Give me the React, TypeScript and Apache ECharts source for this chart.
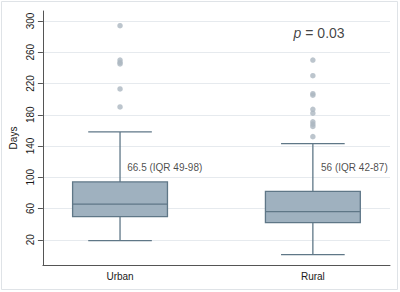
import React, { useEffect, useRef } from "react";
import * as echarts from "echarts";

const categories = ["Urban", "Rural"];
const categoryPositions = [1, 2];
// [min whisker, Q1, median, Q3, max whisker]
const boxStats = [
  [19, 49.5, 65.5, 94, 158],
  [1, 42, 56, 82, 143],
];
const urbanOutliers = [294, 250, 247, 245, 213, 190];
const ruralOutliers = [250, 230, 207, 205, 187, 182, 171, 168, 165, 152];
const medianLabels = ["66.5 (IQR 49-98)", "56 (IQR 42-87)"];
const medianLabelX = [1.04, 2.045];
const medianLabelY = [112, 112];
const yTicks = [20, 60, 100, 140, 180, 220, 260, 300];
const pValue = "0.03";
const pValuePos = [2.035, 284];

const FONT = "Liberation Sans, Arial, sans-serif";

export default function App() {
  const ref = useRef<HTMLDivElement>(null);
  useEffect(() => {
    if (!ref.current) return;
    const chart = echarts.init(ref.current, undefined, { renderer: "svg" });
    const strokeColor = "#5f7787";
    const textColor = "#1a1a1a";
    const option: any = {
      animation: false,
      backgroundColor: "#ffffff",
      textStyle: { fontFamily: FONT },
      graphic: [
        {
          type: "rect",
          shape: { x: 1.5, y: 1.5, width: 396, height: 288 },
          style: { fill: "none", stroke: "#dfe3e7", lineWidth: 1 },
          silent: true,
        },
      ],
      grid: { left: 40, right: 10, top: 11, bottom: 27 },
      xAxis: {
        type: "value",
        min: 0.6,
        max: 2.4,
        axisLine: { show: true, onZero: false, lineStyle: { color: "#555", width: 1 } },
        axisTick: { show: false },
        splitLine: { show: false },
        axisLabel: {
          customValues: categoryPositions,
          formatter: (v: number) => categories[categoryPositions.indexOf(v)] ?? "",
          color: textColor,
          fontSize: 10,
          fontFamily: FONT,
          margin: 6,
        },
      },
      yAxis: {
        type: "value",
        min: -12.3,
        max: 312.8,
        name: "Days",
        nameLocation: "middle",
        nameGap: 22,
        nameTextStyle: { color: textColor, fontSize: 10, fontFamily: FONT },
        axisLine: { show: true, onZero: false, lineStyle: { color: "#555", width: 1 } },
        axisTick: { show: true, customValues: yTicks, length: 5, lineStyle: { color: "#555" } },
        splitLine: { show: true, lineStyle: { color: "#e6eaee", width: 1 } },
        axisLabel: {
          customValues: yTicks,
          rotate: 90,
          color: textColor,
          fontSize: 10,
          fontFamily: FONT,
          margin: 7,
        },
      },
      series: [
        {
          type: "custom",
          data: boxStats.map((s, i) => [categoryPositions[i], ...s]),
          encode: { x: 0, y: [1, 2, 3, 4, 5] },
          renderItem: (params: any, api: any) => {
            const x = api.value(0);
            const vals = [1, 2, 3, 4, 5].map((i) => api.value(i));
            const pts = vals.map((v) => api.coord([x, v]));
            const cx = pts[0][0];
            const [yMin, yQ1, yMed, yQ3, yMax] = pts.map((p: number[]) => p[1]);
            const boxW = api.size([0.492, 0])[0];
            const capW = api.size([0.33, 0])[0];
            const st = { stroke: strokeColor, lineWidth: 1.3 };
            return {
              type: "group",
              children: [
                { type: "line", shape: { x1: cx, y1: yQ3, x2: cx, y2: yMax }, style: st },
                { type: "line", shape: { x1: cx, y1: yMin, x2: cx, y2: yQ1 }, style: st },
                { type: "line", shape: { x1: cx - capW / 2, y1: yMax, x2: cx + capW / 2, y2: yMax }, style: st },
                { type: "line", shape: { x1: cx - capW / 2, y1: yMin, x2: cx + capW / 2, y2: yMin }, style: st },
                {
                  type: "rect",
                  shape: { x: cx - boxW / 2, y: yQ3, width: boxW, height: yQ1 - yQ3 },
                  style: { fill: "#9fb1bf", stroke: strokeColor, lineWidth: 1.3 },
                },
                { type: "line", shape: { x1: cx - boxW / 2, y1: yMed, x2: cx + boxW / 2, y2: yMed }, style: st },
              ],
            };
          },
          z: 2,
        },
        {
          type: "scatter",
          data: [
            ...urbanOutliers.map((v) => [categoryPositions[0], v]),
            ...ruralOutliers.map((v) => [categoryPositions[1], v]),
          ],
          symbol: "circle",
          symbolSize: 5.5,
          itemStyle: { color: "#abb7c1" },
          z: 3,
        },
        {
          type: "scatter",
          data: medianLabels.map((t, i) => [medianLabelX[i], medianLabelY[i], t]),
          symbolSize: 1,
          itemStyle: { color: "rgba(0,0,0,0)" },
          label: {
            show: true,
            position: [0, 0],
            align: "left",
            verticalAlign: "middle",
            formatter: (p: any) => p.data[2],
            color: textColor,
            fontSize: 10,
            fontFamily: FONT,
          },
          z: 4,
        },
        {
          type: "scatter",
          data: [[pValuePos[0], pValuePos[1], pValue]],
          symbolSize: 1,
          itemStyle: { color: "rgba(0,0,0,0)" },
          label: {
            show: true,
            position: [0, 0],
            align: "center",
            verticalAlign: "middle",
            formatter: (p: any) => "{i|p} = " + p.data[2],
            color: "#111",
            fontSize: 14,
            fontFamily: FONT,
            rich: { i: { fontStyle: "italic", fontSize: 14, color: "#111", fontFamily: FONT } },
          },
          z: 4,
        },
      ],
    };
    chart.setOption(option);
    return () => chart.dispose();
  }, []);
  return (
    <div
      ref={ref}
      style={{ position: "absolute", left: 0, top: 0, width: 400, height: 292 }}
    />
  );
}
